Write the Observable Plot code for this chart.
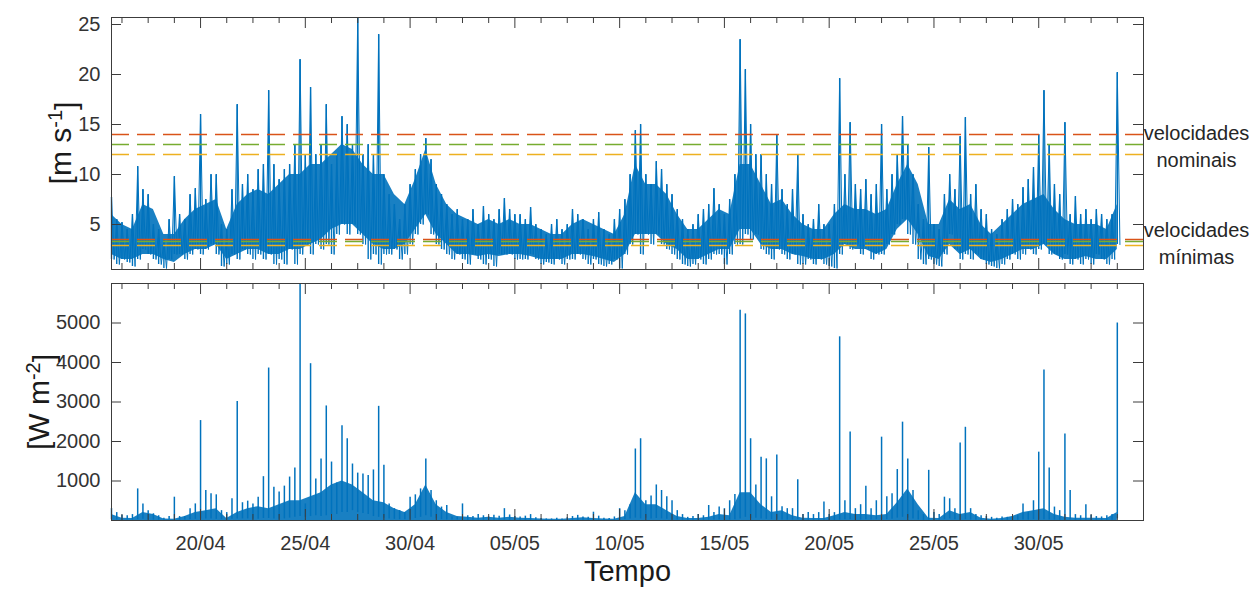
<!DOCTYPE html>
<html><head><meta charset="utf-8">
<script src="https://cdn.jsdelivr.net/npm/d3@7"></script>
<script src="https://cdn.jsdelivr.net/npm/@observablehq/plot@0.6"></script>
<style>
html,body{margin:0;padding:0;background:#fff;}
#chart{position:relative;width:1252px;height:594px;font-family:"Liberation Sans",Arial,sans-serif;}
#chart svg{position:absolute;left:0;overflow:visible;}
</style></head><body><div id="chart"></div>
<script>
// ---------- data ----------
const startTime = "2016-04-15T18:00:00Z";   // first sample
const endTime = "2016-06-04T00:00:00Z";     // end of the time axis
const binHours = 6;                          // extremes (high / low) in each 6-hour window
const coreHours = 12;                        // dense core of the signal, every 12 hours

// wind speed [m/s]: highest and lowest value in each 6-hour window
const windHi = [
7.7,5.5,5.2,4.5,6.0,10.8,8.5,8.0,5.0,4.5,
3.5,5.5,9.8,6.0,5.5,8.0,8.6,16.0,7.5,10.0,
10.0,5.0,4.5,8.5,17.0,9.0,10.0,8.5,10.5,11.0,
18.4,11.0,9.5,10.5,11.0,13.0,21.5,12.0,18.7,12.0,
13.0,17.0,11.0,12.0,15.8,15.0,13.0,25.7,12.0,13.0,
12.0,24.0,10.0,8.0,7.0,5.5,7.0,9.0,10.5,12.0,
13.6,11.5,9.0,8.0,7.0,6.0,6.5,5.5,5.5,6.5,
5.0,6.8,6.0,5.5,6.5,7.6,6.5,6.0,6.0,5.5,
6.7,5.0,4.5,4.0,5.0,5.5,4.5,5.0,6.5,6.0,
5.5,4.5,5.5,6.2,4.5,4.0,5.5,6.5,7.5,10.0,
14.4,15.0,10.0,9.0,11.3,10.5,9.0,8.0,6.5,5.5,
4.5,5.0,6.0,6.5,7.0,8.6,7.0,6.0,7.5,10.0,
23.5,20.5,15.0,12.0,12.0,10.0,9.0,14.0,8.5,7.0,
8.5,12.0,6.0,5.0,5.5,7.0,5.0,5.0,7.0,19.6,
10.0,15.2,9.0,8.5,9.5,8.0,9.0,15.0,8.5,10.0,
12.0,15.8,13.0,10.0,7.0,5.5,12.7,5.0,4.5,8.0,
10.0,8.5,13.8,15.7,8.0,9.0,6.5,6.0,4.5,4.0,
5.5,6.5,7.5,7.0,8.7,9.5,10.7,14.0,18.4,13.0,
9.0,8.0,15.2,6.0,7.8,6.0,6.5,5.5,6.5,6.0,
5.5,6.0,20.2];

const windLo = [
1.5,1.0,1.5,1.2,0.8,1.5,2.5,2.0,1.5,1.0,
0.6,1.5,2.0,2.0,1.5,2.0,2.5,2.0,2.5,3.0,
2.0,0.8,1.0,2.0,1.5,2.5,2.0,1.5,2.0,1.5,
2.0,1.0,1.5,1.0,2.5,1.0,2.0,3.0,2.0,3.0,
2.5,3.0,2.0,4.0,5.0,4.0,5.0,4.0,3.0,1.5,
2.0,1.0,2.0,2.0,2.5,1.5,2.0,3.0,4.0,5.0,
6.0,4.0,3.0,2.5,2.0,1.5,2.0,1.5,1.0,2.0,
1.5,1.0,1.5,0.8,2.0,2.0,2.0,1.5,1.5,1.5,
2.0,1.5,1.0,1.2,1.0,1.5,1.0,1.5,1.5,2.0,
1.5,1.0,1.5,1.0,0.8,1.0,1.5,0.6,2.0,3.0,
4.0,2.0,4.0,3.0,4.0,3.0,2.5,2.0,1.5,1.0,
0.8,1.0,1.5,1.0,1.5,2.0,2.0,1.0,2.0,3.0,
3.0,4.0,3.5,4.0,2.5,2.0,1.5,2.5,2.0,1.5,
2.0,1.0,1.0,1.5,1.0,1.5,1.0,0.8,0.6,2.0,
3.0,2.5,3.0,2.0,2.5,1.5,2.0,2.0,3.0,4.0,
5.0,5.5,4.0,3.0,1.5,1.0,1.5,1.0,0.8,2.0,
4.0,2.5,1.5,2.0,1.5,2.0,1.5,1.0,0.8,0.6,
1.0,1.5,2.0,1.5,2.0,2.5,2.0,2.5,3.0,2.0,
2.0,1.5,2.0,1.0,1.5,1.0,1.5,1.0,2.0,1.5,
1.0,1.5,3.0];

// wind speed: upper and lower edge of the dense core, every 12 hours
const windCoreHi = [
6,5,4.5,7,6.5,4,4,5.5,6.5,7,
7.5,4.5,7,8,8.5,8,9,10,10,11,
11,12,13,12.5,11,10,10,8,7,9.5,
12.5,9,7,6,5.5,5,5.5,5,5.5,5,
5,4.5,4,4,5,5.5,5,4.5,4,6,
11,9,9,8,6,4.5,4.5,5.5,6.5,6,
11,11,9,7,7.5,6,5,4.5,4.5,6,
7,6.5,6.5,6,6.5,9,11,9,5,5,
7.5,6.5,7,5,4,5,6,7,7.5,8,
6.5,5.5,5,5,5,4.5,7];
const windCoreLo = [
2,1.5,1.5,2,2,1.5,1.2,2,2.5,2.5,
3,1.5,2,2.5,2.5,2,2,2.5,2.5,3,
3.5,4.5,5,5,4,3,2.5,2.5,3,4.5,
6,4,3,2,2,1.8,2,1.8,2,2,
1.8,1.5,1.5,1.5,2,2,1.8,1.5,1.2,2,
4,4,4,3,2.5,1.5,1.5,2,2.5,2.5,
4.5,4.5,3,2.5,2.5,2,1.8,1.5,1.5,2,
3,2.5,2.5,2,2.5,4.5,5.5,4,1.8,1.5,
3,2,2.5,1.5,1.2,1.5,2,2.5,2.5,3,
2,1.5,1.5,1.8,1.5,1.5,2.5];

// power density [W/m2]: highest and lowest value in each 6-hour window
const powerHi = [
300,200,130,120,150,800,420,250,170,120,
60,100,590,100,100,300,420,2530,760,680,
650,250,200,550,3010,450,490,420,590,1110,
3860,840,720,870,1100,1330,5990,420,3970,1050,
1560,2900,1480,950,2400,2070,1430,1200,1180,1140,
1280,2890,1400,420,300,250,200,590,650,800,
1560,760,500,340,380,90,80,420,120,100,
150,120,90,130,110,300,140,100,90,110,
150,70,50,40,40,60,40,70,100,130,
90,80,210,110,60,50,90,300,250,400,
1810,2070,500,620,900,760,600,500,250,150,
80,100,150,120,380,200,340,300,500,660,
5320,5230,2070,900,1600,1560,600,1660,350,300,
300,1030,150,200,150,200,470,150,200,4650,
500,2240,300,400,870,300,500,2110,600,680,
1290,2490,1560,760,250,150,1270,200,150,590,
550,300,1960,2360,300,150,120,100,80,60,
90,80,100,120,420,200,500,1730,3810,1330,
340,250,2190,760,150,120,400,130,100,90,
120,150,5000];

const powerLo = [
20,10,10,10,10,20,30,20,10,10,
5,10,20,10,10,20,30,40,40,40,
30,20,20,30,40,40,40,30,30,50,
50,40,30,40,60,80,100,80,100,120,
100,120,150,150,200,200,250,200,180,150,
100,80,60,40,30,20,20,30,50,80,
120,80,40,20,10,10,10,10,5,5,
10,5,5,5,5,10,5,5,5,5,
5,5,2,2,2,2,2,5,5,5,
5,5,5,5,2,2,2,5,20,40,
60,40,60,40,50,40,30,20,10,5,
2,5,5,5,10,10,10,5,10,20,
40,80,50,60,40,30,20,30,10,10,
10,20,5,5,5,5,5,2,2,10,
20,20,10,10,20,10,20,20,20,30,
60,80,60,40,10,5,10,5,5,20,
40,20,10,20,10,5,5,2,2,2,
2,5,5,5,10,10,20,30,20,10,
10,5,20,10,5,5,5,5,5,5,
5,5,40];

// power density: upper edge of the dense core, every 12 hours
const powerCore = [
150,60,50,200,150,40,30,100,200,250,
300,50,200,300,350,300,400,500,500,600,
700,900,1000,900,700,500,450,300,200,400,
900,400,200,100,80,60,80,60,80,60,
50,40,30,30,50,70,50,40,30,100,
700,400,400,250,100,50,50,80,150,120,
700,700,400,200,250,120,60,50,50,120,
200,150,150,120,150,450,800,400,60,50,
250,150,200,60,30,50,100,200,250,300,
150,80,60,60,60,50,200];

const turbines = ["Turbina 1", "Turbina 2", "Turbina 3"];
const nominalSpeeds = [14, 13, 12];
const minimumSpeeds = [3.5, 3.3, 2.9];
const zoneLabels = ["velocidades\nnominais", "velocidades\nmínimas"];

const majorTickDates = ["2016-04-20","2016-04-25","2016-04-30","2016-05-05","2016-05-10",
  "2016-05-15","2016-05-20","2016-05-25","2016-05-30"];
const minorTickDates = [
  "2016-04-16T06:00Z","2016-04-17T12:00Z","2016-04-18T18:00Z",
  "2016-04-21T06:00Z","2016-04-22T12:00Z","2016-04-23T18:00Z",
  "2016-04-26T06:00Z","2016-04-27T12:00Z","2016-04-28T18:00Z",
  "2016-05-01T06:00Z","2016-05-02T12:00Z","2016-05-03T18:00Z",
  "2016-05-06T06:00Z","2016-05-07T12:00Z","2016-05-08T18:00Z",
  "2016-05-11T06:00Z","2016-05-12T12:00Z","2016-05-13T18:00Z",
  "2016-05-16T06:00Z","2016-05-17T12:00Z","2016-05-18T18:00Z",
  "2016-05-21T06:00Z","2016-05-22T12:00Z","2016-05-23T18:00Z",
  "2016-05-26T06:00Z","2016-05-27T12:00Z","2016-05-28T18:00Z",
  "2016-05-31T06:00Z","2016-06-01T12:00Z","2016-06-02T18:00Z"];
const windTicks = [5, 10, 15, 20, 25];
const powerTicks = [1000, 2000, 3000, 4000, 5000];

// ---------- build tables ----------
const t0 = new Date(startTime);
const xDomain = [t0, new Date(endTime)];
const hour = 3600e3;
const bins = (hi, lo) => hi.map((h, i) => ({t: new Date(+t0 + i * binHours * hour), hi: h, lo: lo[i]}));
const core = (hi, lo) => hi.map((h, i) => ({t: new Date(+t0 + i * coreHours * hour), hi: h, lo: lo ? lo[i] : 0}));
// the same extremes as one sequence (high, then low, within each window)
const sequence = (hi, lo) => hi.flatMap((h, i) => [
  {t: new Date(+t0 + i * binHours * hour), v: h},
  {t: new Date(+t0 + (i + 0.5) * binHours * hour), v: lo[i]}
]);
const windBins = bins(windHi, windLo);
const powerBins = bins(powerHi, powerLo);
const windSeq = sequence(windHi, windLo);
const windCore = core(windCoreHi, windCoreLo);
const powerCoreRows = core(powerCore, null);
const nominalRows = turbines.map((k, i) => ({turbine: k, speed: nominalSpeeds[i]}));
const minimumRows = turbines.map((k, i) => ({turbine: k, speed: minimumSpeeds[i]}));
const labelRows = [
  {label: zoneLabels[0], y: nominalSpeeds[1]},
  {label: zoneLabels[1], y: minimumSpeeds[1]}
];
const majorTicks = majorTickDates.map(s => new Date(s + "T00:00:00Z"));
const minorTicks = minorTickDates.map(s => new Date(s));

// ---------- layout ----------
const W = 1252, ML = 111, MR = 109, FW = W - ML - MR;
const blue = "#0072BD";
const axisColor = "#3c3c3c";
const textColor = "#333333";
const fontFamily = '"Liberation Sans", Arial, sans-serif';

function frameTicks(FH, yTicks) {
  return [
    Plot.frame({stroke: axisColor, strokeWidth: 1}),
    Plot.tickX(majorTicks, {x: d => d, insetTop: FH - 11, stroke: axisColor}),
    Plot.tickX(majorTicks, {x: d => d, insetBottom: FH - 11, stroke: axisColor}),
    Plot.tickX(minorTicks, {x: d => d, insetTop: FH - 6, stroke: axisColor}),
    Plot.tickX(minorTicks, {x: d => d, insetBottom: FH - 6, stroke: axisColor}),
    Plot.tickY(yTicks, {y: d => d, insetRight: FW - 10, stroke: axisColor}),
    Plot.tickY(yTicks, {y: d => d, insetLeft: FW - 10, stroke: axisColor})
  ];
}

const topH = 275, topMT = 17, topMB = 6;
const topPlot = Plot.plot({
  width: W, height: topH,
  marginLeft: ML, marginRight: MR, marginTop: topMT, marginBottom: topMB,
  style: {fontFamily, fontSize: "20px", color: textColor, background: "transparent", overflow: "visible"},
  x: {type: "utc", domain: xDomain, axis: null},
  y: {domain: [0.5, 25.7]},
  color: {domain: turbines, range: ["#D95319", "#77AC30", "#EDB120"]},
  marks: [
    Plot.areaY(windCore, {x: "t", y1: "lo", y2: "hi", fill: blue, fillOpacity: 0.9}),
    Plot.line(windSeq, {x: "t", y: "v", stroke: blue, strokeWidth: 1}),
    Plot.ruleX(windBins, {x: "t", y1: "lo", y2: "hi", stroke: blue, strokeWidth: 1.4}),
    Plot.ruleY(nominalRows, {y: "speed", stroke: "turbine", strokeWidth: 1.3, strokeDasharray: "18,8"}),
    Plot.ruleY(minimumRows, {y: "speed", stroke: "turbine", strokeWidth: 1.3, strokeDasharray: "18,8"}),
    ...frameTicks(topH - topMT - topMB, windTicks),
    Plot.axisY(windTicks, {anchor: "left", tickSize: 0, tickPadding: 11, fontSize: 20, label: null}),
    Plot.text(labelRows, {x: () => xDomain[1], y: "y", text: "label", dx: 53,
      textAnchor: "middle", lineHeight: 1.35, fontSize: 20, fill: "#262626"})
  ]
});

const botTop = 275, botH = 319, botMT = 8, botMB = 74;
const botPlot = Plot.plot({
  width: W, height: botH,
  marginLeft: ML, marginRight: MR, marginTop: botMT, marginBottom: botMB,
  style: {fontFamily, fontSize: "20px", color: textColor, background: "transparent", overflow: "visible"},
  x: {type: "utc", domain: xDomain},
  y: {domain: [0, 6000]},
  marks: [
    Plot.areaY(powerCoreRows, {x: "t", y1: "lo", y2: "hi", fill: blue, fillOpacity: 0.9}),
    Plot.ruleX(powerBins, {x: "t", y1: "lo", y2: "hi", stroke: blue, strokeWidth: 1.5}),
    ...frameTicks(botH - botMT - botMB, powerTicks),
    Plot.axisY(powerTicks, {anchor: "left", tickSize: 0, tickPadding: 11, fontSize: 20,
      tickFormat: d => String(d), label: null}),
    Plot.axisX(majorTicks, {anchor: "bottom", tickSize: 0, tickPadding: 15, fontSize: 20,
      tickFormat: d3.utcFormat("%d/%m"), label: null}),
    Plot.text(["Tempo"], {frameAnchor: "bottom", dy: 60, fontSize: 29, fill: "#1a1a1a"})
  ]
});

function yLabel(svg, x, y, main, sup, tail) {
  const t = d3.select(svg).append("text")
    .attr("transform", `translate(${x},${y}) rotate(-90)`)
    .attr("text-anchor", "middle")
    .attr("font-family", fontFamily)
    .attr("font-size", 30)
    .attr("fill", "#1a1a1a");
  t.append("tspan").text(main);
  t.append("tspan").attr("dy", "-0.45em").attr("font-size", 20).text(sup);
  t.append("tspan").attr("dy", "0.45em").text(tail);
}
yLabel(topPlot, 71, 143, "[m s", "-1", "]");
yLabel(botPlot, 49, 127, "[W m", "-2", "]");

const chart = document.getElementById("chart");
topPlot.style.top = "0px";
botPlot.style.top = botTop + "px";
chart.appendChild(topPlot);
chart.appendChild(botPlot);
</script></body></html>
